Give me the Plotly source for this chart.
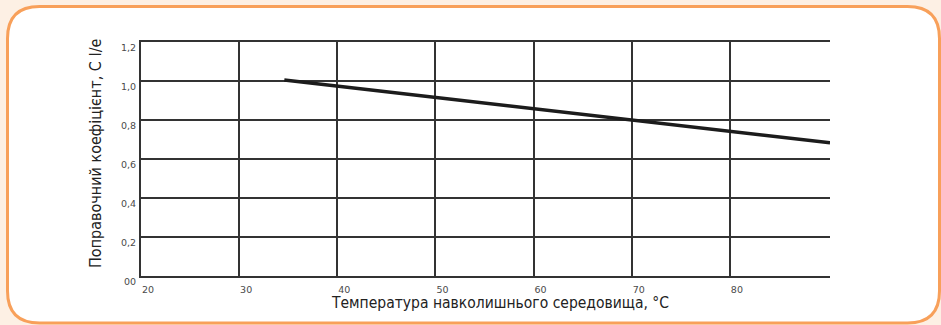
import plotly.graph_objects as go

# Correction factor vs. ambient temperature
temperature = [34.6, 50, 70, 90.2]
factor = [1.005, 0.917, 0.80, 0.683]

x_ticks = [20, 30, 40, 50, 60, 70, 80]
y_ticks = [0, 0.2, 0.4, 0.6, 0.8, 1.0, 1.2]
y_tick_text = ["00", "0,2", "0,4", "0,6", "0,8", "1,0", "1,2"]

W, H = 941, 325
L, R, T, B = 141, 830, 42, 276  # plot area in pixels


def px(x):
    return (x - L) / (R - L)


def py(y):
    return (B - y) / (B - T)


cond = "Liberation Sans Narrow, DejaVu Sans Condensed, Arial Narrow, sans-serif"

fig = go.Figure()
fig.add_trace(go.Scatter(
    x=temperature, y=factor, mode="lines",
    line=dict(color="#1c1c1c", width=3.5),
    hoverinfo="skip", showlegend=False,
))

# rounded frame around the chart
x0, x1, y0, y1, r = 7.5, 939.5, 6.5, 323, 32
path = (
    f"M {px(x0 + r)},{py(y0)} L {px(x1 - r)},{py(y0)} "
    f"Q {px(x1)},{py(y0)} {px(x1)},{py(y0 + r)} "
    f"L {px(x1)},{py(y1 - r)} Q {px(x1)},{py(y1)} {px(x1 - r)},{py(y1)} "
    f"L {px(x0 + r)},{py(y1)} Q {px(x0)},{py(y1)} {px(x0)},{py(y1 - r)} "
    f"L {px(x0)},{py(y0 + r)} Q {px(x0)},{py(y0)} {px(x0 + r)},{py(y0)} Z"
)
fig.add_shape(type="path", path=path, xref="paper", yref="paper",
              line=dict(color="#f8a05a", width=3), fillcolor="white",
              layer="below")

tick_font = dict(family="DejaVu Sans, Verdana, sans-serif", size=9.5, color="#4a4a4a")

fig.update_layout(
    width=W, height=H,
    margin=dict(l=L, r=W - R, t=T, b=H - B),
    paper_bgcolor="#fdf0e4",
    plot_bgcolor="rgba(0,0,0,0)",
    xaxis=dict(
        range=[20, 90.2], tickvals=x_ticks, ticks="",
        showgrid=True, gridcolor="#333333", gridwidth=2,
        showline=True, linecolor="#333333", linewidth=2, mirror=True,
        zeroline=False, ticklabelshift=7, ticklabelstandoff=4,
        tickfont=tick_font, fixedrange=True,
    ),
    yaxis=dict(
        range=[0, 1.2], tickvals=y_ticks, ticktext=y_tick_text, ticks="",
        showgrid=True, gridcolor="#333333", gridwidth=2,
        showline=True, linecolor="#333333", linewidth=2, mirror=False,
        zeroline=False, ticklabelshift=6, ticklabelstandoff=1,
        tickfont=tick_font, fixedrange=True,
    ),
    annotations=[
        dict(text="Поправочний коефіцієнт, С І/е", xref="paper", yref="paper",
             x=px(95), y=py(153), textangle=-90, showarrow=False,
             xanchor="center", yanchor="middle",
             font=dict(family=cond, size=16, color="#222222")),
        dict(text="Температура навколишнього середовища, °С", xref="paper", yref="paper",
             x=px(500), y=py(303), showarrow=False,
             xanchor="center", yanchor="middle",
             font=dict(family=cond, size=15.5, color="#222222")),
    ],
)

fig.write_html("out.html")
